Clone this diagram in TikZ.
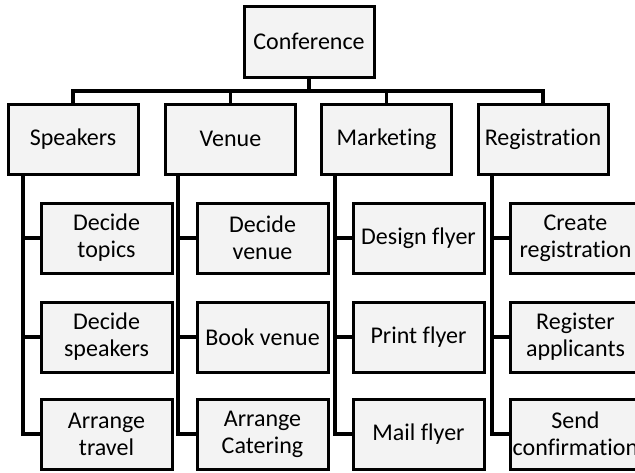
\documentclass[tikz,border=0pt]{standalone}
\usepackage{fontspec}
\setmainfont[Ligatures={NoCommon}]{Carlito}
\usetikzlibrary{calc}
\definecolor{boxfill}{RGB}{243,243,243}
\begin{document}
\begin{tikzpicture}[x=1pt,y=-1pt,
  box/.style={draw=black, line width=3pt, fill=boxfill, inner sep=0pt,
    minimum width=130pt, minimum height=70pt, align=center,
    font=\fontsize{24}{27}\selectfont},
  task/.style={box, minimum width=131pt},
  link/.style={draw=black, line width=3.6pt, line join=miter}]
  \useasboundingbox (0,0) rectangle (635,472);
  \clip (0,0) rectangle (635,472);

  % root
  \node[box, minimum height=71pt] (conf) at (309,41.5) {Conference};

  % second level
  \node[box] (spk) at (73,139)    {Speakers};
  \node[box] (ven) at (230.5,139) {Venue};
  \node[box] (mkt) at (386.5,139) {Marketing};
  \node[box] (reg) at (543,139)   {Registration};

  % tasks
  \node[task] (s1) at (106.5,238) {Decide\\topics};
  \node[task] (s2) at (106.5,337) {Decide\\speakers};
  \node[task] (s3) at (106.5,434) {Arrange\\travel};
  \node[task] (v1) at (262.5,238) {Decide\\venue};
  \node[task] (v2) at (262.5,337) {Book venue};
  \node[task] (v3) at (262.5,434) {Arrange\\Catering};
  \node[task] (m1) at (418.5,238) {Design flyer};
  \node[task] (m2) at (418.5,337) {Print flyer};
  \node[task] (m3) at (418.5,434) {Mail flyer};
  \node[task] (r1) at (575.5,238) {Create\\registration};
  \node[task] (r2) at (575.5,337) {Register\\applicants};
  \node[task] (r3) at (575.5,434) {Send\\confirmation};

  % bus under the root
  \coordinate (bar) at (309,90.7);
  \coordinate (sT) at (22.7,174);
  \coordinate (vT) at (178,174);
  \coordinate (mT) at (335,174);
  \coordinate (rT) at (492,174);

  \draw[link] (conf.south) -- (bar);
  \foreach \t in {spk,ven,mkt,reg}
    \draw[link] (\t.north) |- (bar);

  % trunks down to each task
  \foreach \c in {s1,s2,s3} \draw[link] (\c.west) -| (sT);
  \foreach \c in {v1,v2,v3} \draw[link] (\c.west) -| (vT);
  \foreach \c in {m1,m2,m3} \draw[link] (\c.west) -| (mT);
  \foreach \c in {r1,r2,r3} \draw[link] (\c.west) -| (rT);
\end{tikzpicture}
\end{document}
